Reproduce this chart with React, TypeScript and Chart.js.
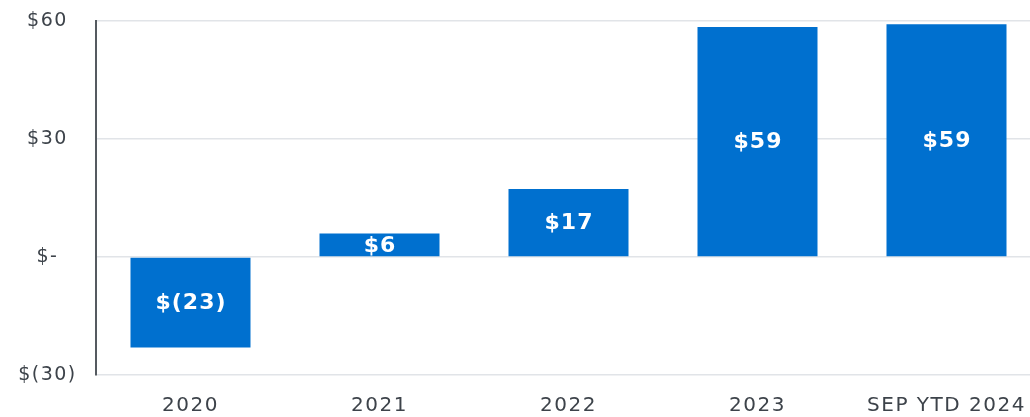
import React, { useEffect, useRef } from "react";
import { Chart, registerables } from "chart.js";

Chart.register(...registerables);

const categories = ["2020", "2021", "2022", "2023", "SEP YTD 2024"];
const values = [-23, 6, 17.3, 58.5, 59.2];
const valueLabels = ["$(23)", "$6", "$17", "$59", "$59"];
const yTicks = [-30, 0, 30, 60];

const fmtTick = (v: number) => (v === 0 ? "$-" : v < 0 ? `$(${-v})` : `$${v}`);

const spacingPlugin = {
  id: "spacing",
  beforeDraw(chart: any) {
    (chart.ctx as any).letterSpacing = "1.5px";
  },
  afterDraw(chart: any) {
    (chart.ctx as any).letterSpacing = "0px";
  },
};

const barLabelPlugin = {
  id: "barLabels",
  afterDatasetsDraw(chart: any) {
    const ctx = chart.ctx;
    const meta = chart.getDatasetMeta(0);
    ctx.save();
    (ctx as any).letterSpacing = "1px";
    ctx.fillStyle = "#ffffff";
    ctx.font = "bold 22px 'DejaVu Sans'";
    ctx.textAlign = "center";
    ctx.textBaseline = "middle";
    meta.data.forEach((bar: any, i: number) => {
      const { x, y, base } = bar.getProps(["x", "y", "base"], true);
      ctx.fillText(valueLabels[i], x + 0.5, (y + base) / 2 + 1);
    });
    ctx.restore();
  },
};

export default function App() {
  const ref = useRef<HTMLCanvasElement>(null);
  useEffect(() => {
    if (!ref.current) return;
    const chart = new Chart(ref.current, {
      type: "bar",
      data: {
        labels: categories,
        datasets: [
          {
            data: values,
            backgroundColor: "#0070CF",
            borderWidth: 0,
            categoryPercentage: 1,
            barPercentage: 0.635,
          },
        ],
      },
      options: {
        animation: false,
        responsive: false,
        maintainAspectRatio: false,
        layout: { padding: 0 },
        plugins: { legend: { display: false }, tooltip: { enabled: false } },
        scales: {
          x: {
            grid: { display: false, drawTicks: false },
            border: { display: false },
            ticks: {
              color: "#3d434a",
              font: { family: "'DejaVu Sans'", size: 20 },
              padding: 19,
              maxRotation: 0,
              autoSkip: false,
            },
            afterFit: (s: any) => {
              s.height = 42;
              s.paddingLeft = 0;
              s.paddingRight = 0;
            },
          },
          y: {
            min: -30,
            max: 60,
            afterBuildTicks: (s: any) => {
              s.ticks = yTicks.map((v) => ({ value: v }));
            },
            grid: { color: "#e1e4e8", lineWidth: 1.5, drawTicks: false },
            border: { display: true, color: "#555a60", width: 2 },
            ticks: {
              color: "#3d434a",
              font: { family: "'DejaVu Sans'", size: 19 },
              padding: 23,
              crossAlign: "center",
              callback: (v: any) => fmtTick(Number(v)),
            },
            afterFit: (s: any) => {
              s.width = 96;
              s.paddingTop = 21;
              s.paddingBottom = 0;
            },
          },
        },
      },
      plugins: [spacingPlugin, barLabelPlugin],
    });
    return () => chart.destroy();
  }, []);
  return (
    <div
      style={{
        position: "fixed",
        left: 0,
        top: 0,
        width: 1030,
        height: 417,
        overflow: "hidden",
        background: "#fff",
      }}
    >
      <canvas ref={ref} width={1041} height={417} style={{ display: "block" }} />
    </div>
  );
}
